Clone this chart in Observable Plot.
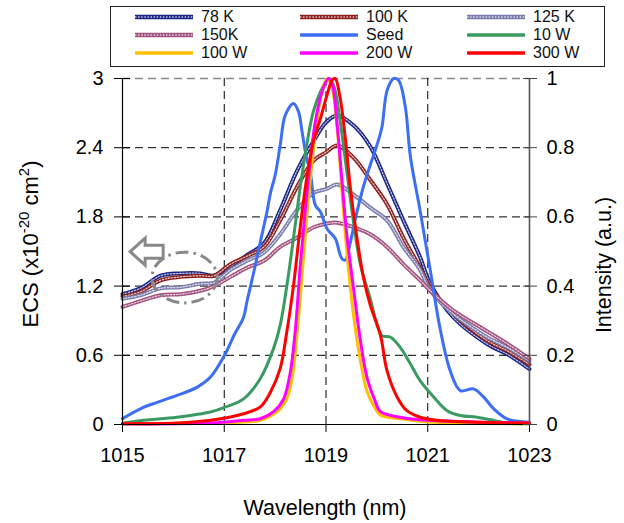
<!DOCTYPE html>
<html><head><meta charset="utf-8">
<script src="https://cdn.jsdelivr.net/npm/d3@7"></script>
<script src="https://cdn.jsdelivr.net/npm/@observablehq/plot@0.6"></script>
<style>
body{margin:0;background:#fff;font-family:"Liberation Sans",Arial,sans-serif;}
#wrap{position:relative;width:624px;height:523px;}
#legend{position:absolute;left:110px;top:6px;width:493px;height:59px;border:1.5px solid #222;background:#fff;box-sizing:content-box;}
.item{position:absolute;height:16px;display:flex;align-items:center;font-size:16px;color:#111;white-space:nowrap;}
.item svg{margin-right:8px;}
.item span{display:inline-block;line-height:16px;height:16px;}
</style></head><body>
<div id="wrap"><div id="chart"></div><div id="legend"></div></div>
<script>
// ---------- data ----------
const xTicks = [1015, 1017, 1019, 1021, 1023];
const ecsTicks = [0, 0.6, 1.2, 1.8, 2.4, 3];
const intensityTicks = [0, 0.2, 0.4, 0.6, 0.8, 1];

const ecsNames = ["78 K", "100 K", "125 K", "150K"];
const ecsColors = ["#1c2584", "#8e1f1f", "#7a7cab", "#a2507e"];
const ecsWl = [1015, 1015.35, 1015.75, 1016.14, 1016.53, 1016.8, 1017.12, 1017.45, 1017.78, 1018.1, 1018.43, 1018.76, 1019.0, 1019.22, 1019.55, 1019.87, 1020.2, 1020.52, 1020.85, 1021.05, 1021.5, 1022.16, 1022.6, 1023];
const ecs78  = [1.13,1.18,1.29,1.31,1.31,1.29,1.37,1.47,1.57,1.86,2.20,2.46,2.62,2.68,2.59,2.41,2.09,1.77,1.45,1.22,0.93,0.70,0.60,0.48];
const ecs100 = [1.11,1.15,1.25,1.28,1.29,1.29,1.39,1.46,1.54,1.77,2.06,2.29,2.36,2.42,2.31,2.12,1.91,1.62,1.36,1.19,0.96,0.73,0.63,0.52];
const ecs125 = [1.09,1.12,1.18,1.19,1.22,1.23,1.34,1.42,1.49,1.65,1.86,2.01,2.04,2.08,1.99,1.88,1.77,1.54,1.34,1.16,0.96,0.76,0.66,0.55];
const ecs150 = [1.02,1.07,1.12,1.13,1.16,1.20,1.28,1.36,1.42,1.54,1.62,1.71,1.74,1.75,1.71,1.65,1.54,1.39,1.25,1.16,0.99,0.81,0.69,0.57];

const intNames = ["Seed", "10 W", "100 W", "200 W", "300 W"];
const intColors = ["#3d6ff5", "#3a9a62", "#ffc000", "#ff00ff", "#ff0000"];
const seed = [[1015,0.017],[1015.42,0.05],[1015.6,0.06],[1016.07,0.084],[1016.47,0.108],[1016.73,0.137],[1017.02,0.204],[1017.2,0.26],[1017.38,0.31],[1017.45,0.358],[1017.58,0.44],[1017.71,0.528],[1017.84,0.615],[1017.91,0.67],[1018.0,0.72],[1018.1,0.807],[1018.2,0.894],[1018.36,0.928],[1018.46,0.904],[1018.53,0.846],[1018.62,0.769],[1018.69,0.73],[1018.79,0.634],[1018.89,0.615],[1019.02,0.566],[1019.18,0.538],[1019.31,0.48],[1019.38,0.475],[1019.48,0.528],[1019.61,0.615],[1019.74,0.69],[1019.87,0.75],[1020.0,0.807],[1020.1,0.86],[1020.2,0.965],[1020.33,1.0],[1020.43,0.994],[1020.56,0.917],[1020.66,0.773],[1020.85,0.618],[1021.05,0.445],[1021.25,0.272],[1021.44,0.156],[1021.64,0.098],[1021.9,0.103],[1022.1,0.079],[1022.3,0.045],[1022.56,0.016],[1022.95,0.007],[1023,0.006]];
const w10 = [[1015,0.004],[1015.42,0.012],[1016.07,0.021],[1016.73,0.036],[1017.02,0.05],[1017.38,0.074],[1017.71,0.133],[1017.97,0.22],[1018.1,0.287],[1018.23,0.40],[1018.36,0.538],[1018.49,0.682],[1018.62,0.807],[1018.75,0.904],[1018.89,0.961],[1019.05,1.0],[1019.15,0.98],[1019.28,0.875],[1019.41,0.73],[1019.55,0.576],[1019.68,0.46],[1019.87,0.364],[1020.0,0.29],[1020.1,0.257],[1020.27,0.252],[1020.46,0.223],[1020.66,0.175],[1020.85,0.127],[1021.12,0.079],[1021.38,0.04],[1021.64,0.026],[1021.97,0.021],[1022.3,0.012],[1022.56,0.004],[1023,0.002]];
const w100 = [[1015,0.002],[1017.38,0.007],[1017.71,0.012],[1018.04,0.037],[1018.23,0.075],[1018.33,0.13],[1018.43,0.26],[1018.53,0.43],[1018.62,0.595],[1018.72,0.75],[1018.82,0.875],[1018.92,0.961],[1019.02,1.0],[1019.12,0.971],[1019.22,0.855],[1019.31,0.682],[1019.41,0.499],[1019.55,0.306],[1019.68,0.181],[1019.81,0.094],[1019.97,0.046],[1020.07,0.027],[1020.5,0.016],[1021.0,0.007],[1023,0.002]];
const w200 = [[1015,0.002],[1016.73,0.004],[1017.38,0.012],[1017.71,0.017],[1017.97,0.037],[1018.17,0.075],[1018.3,0.152],[1018.4,0.277],[1018.49,0.45],[1018.59,0.615],[1018.69,0.76],[1018.79,0.875],[1018.92,0.961],[1019.05,1.0],[1019.12,0.986],[1019.22,0.865],[1019.31,0.711],[1019.41,0.547],[1019.55,0.383],[1019.68,0.239],[1019.81,0.133],[1019.97,0.066],[1020.07,0.037],[1020.46,0.021],[1021.0,0.012],[1023,0.004]];
const w300 = [[1015,0.002],[1016.07,0.004],[1016.73,0.012],[1017.38,0.031],[1017.71,0.051],[1017.91,0.094],[1018.1,0.162],[1018.23,0.268],[1018.36,0.40],[1018.49,0.566],[1018.62,0.711],[1018.75,0.817],[1018.89,0.884],[1019.02,0.952],[1019.12,0.995],[1019.18,1.0],[1019.28,0.942],[1019.38,0.827],[1019.48,0.682],[1019.61,0.538],[1019.74,0.422],[1019.87,0.345],[1020.07,0.258],[1020.2,0.155],[1020.4,0.079],[1020.59,0.04],[1020.85,0.021],[1021.18,0.012],[1021.84,0.007],[1023,0.004]];

// annotation (data units): arrow tip and dashed ellipse
const arrowTip = [1015.16, 1.494];
const ellipseSpec = {cx: 1016.23, cy: 1.27, rx: 0.64, ry: 0.22};

// ---------- build ----------
const ecsValues = [ecs78, ecs100, ecs125, ecs150];
const ecsRows = ecsNames.map((n, k) => ecsWl.map((w, i) => ({wl: w, v: ecsValues[k][i]})));
const intValues = [seed, w10, w100, w200, w300];
const yMax = ecsTicks[ecsTicks.length - 1];
const intRows = intValues.map(arr => arr.map(([w, v]) => ({wl: w, v: v * yMax})));

function annotationMark(index, scales) {
  const {x, y} = scales;
  const g = d3.create("svg:g");
  const ex = x(ellipseSpec.cx), ey = y(ellipseSpec.cy);
  const erx = x(ellipseSpec.cx + ellipseSpec.rx) - ex;
  const ery = ey - y(ellipseSpec.cy + ellipseSpec.ry);
  g.append("ellipse").attr("cx", ex).attr("cy", ey).attr("rx", erx).attr("ry", ery)
    .attr("fill", "none").attr("stroke", "#888").attr("stroke-width", 3)
    .attr("stroke-dasharray", "13,5,2.5,5");
  const tx = x(arrowTip[0]), ty = y(arrowTip[1]);
  g.append("path").attr("d", `M${tx},${ty} l15,-13.5 v7 h18 v13 h-18 v7 z`)
    .attr("fill", "#fff").attr("stroke", "#888").attr("stroke-width", 3).attr("stroke-linejoin", "miter");
  return g.node();
}

const marks = [
  Plot.gridY(ecsTicks.slice(1, -1), {stroke: "#000", strokeOpacity: 1, strokeDasharray: "8,5", strokeWidth: 1}),
  Plot.gridY([yMax], {stroke: "#888", strokeOpacity: 1, strokeDasharray: "8,5", strokeWidth: 1.3}),
  Plot.gridX(xTicks.slice(1, -1), {stroke: "#000", strokeOpacity: 1, strokeDasharray: "8,5", strokeWidth: 1}),
];
ecsRows.forEach((rows, k) => {
  marks.push(Plot.line(rows, {x: "wl", y: "v", stroke: ecsColors[k], strokeWidth: 4, curve: "catmull-rom"}));
  marks.push(Plot.line(rows, {x: "wl", y: "v", stroke: "#fff", strokeWidth: 1.2, strokeOpacity: 0.75, strokeDasharray: "1.5,1.6", curve: "catmull-rom"}));
});
intRows.forEach((rows, k) => {
  marks.push(Plot.line(rows, {x: "wl", y: "v", stroke: intColors[k], strokeWidth: 3, curve: "catmull-rom"}));
});
marks.push(annotationMark);
marks.push(
  Plot.ruleX([xTicks[0]], {stroke: "#000", strokeWidth: 1.2}),
  Plot.ruleX([xTicks[xTicks.length - 1]], {stroke: "#555", strokeWidth: 1.6}),
  Plot.ruleY([0], {stroke: "#000", strokeWidth: 1.2}),
  Plot.axisX({ticks: xTicks, tickSize: 8, tickPadding: 15, tickFormat: d => String(d), fontSize: 20, label: null}),
  Plot.axisY({ticks: ecsTicks, tickSize: 16, dx: 8, tickFormat: () => "", label: null}),
  Plot.axisY({ticks: ecsTicks, tickSize: 0, tickPadding: 19, tickFormat: d => String(+d.toFixed(1)), fontSize: 20, label: null}),
  Plot.axisY({anchor: "right", ticks: ecsTicks, tickSize: 14, dx: -7, stroke: "#444", tickFormat: () => "", label: null}),
  Plot.axisY({anchor: "right", ticks: ecsTicks, tickSize: 0, tickPadding: 17, tickFormat: d => String(+(d / yMax).toFixed(1)), fontSize: 20, label: null})
);

const chart = Plot.plot({
  width: 624, height: 523,
  marginLeft: 122, marginRight: 95, marginTop: 78, marginBottom: 99,
  x: {domain: [xTicks[0], xTicks[xTicks.length - 1]]},
  y: {domain: [0, yMax]},
  style: {fontFamily: "Liberation Sans, Arial, sans-serif", fontSize: "20px", color: "#000", background: "#fff", overflow: "visible"},
  marks
});
document.getElementById("chart").appendChild(chart);

// axis titles
const svg = d3.select(chart);
svg.append("text").attr("x", 325).attr("y", 515).attr("text-anchor", "middle")
  .style("font-size", "21.5px").style("font-family", "Liberation Sans, Arial, sans-serif").text("Wavelength (nm)");
svg.append("text").attr("transform", "translate(611,265) rotate(-90)").attr("text-anchor", "middle")
  .style("font-size", "21.5px").style("font-family", "Liberation Sans, Arial, sans-serif").text("Intensity (a.u.)");
const t = svg.append("text").attr("transform", "translate(38,244) rotate(-90)").attr("text-anchor", "middle")
  .style("font-size", "22px").style("font-family", "Liberation Sans, Arial, sans-serif");
t.append("tspan").text("ECS (x10");
t.append("tspan").attr("dy", "-9").style("font-size", "15px").text("-20");
t.append("tspan").attr("dy", "9").text(" cm");
t.append("tspan").attr("dy", "-9").style("font-size", "15px").text("2");
t.append("tspan").attr("dy", "9").text(")");

// legend
const legendNames = [...ecsNames, ...intNames];
const legendColors = [...ecsColors, ...intColors];
const legendTextured = legendNames.map((n, i) => i < ecsNames.length);
const colLeft = [24, 189, 356], rowTop = [2, 20, 38];
const legend = d3.select("#legend");
legendNames.forEach((name, i) => {
  const item = legend.append("div").attr("class", "item")
    .style("left", colLeft[i % 3] + "px").style("top", rowTop[Math.floor(i / 3)] + "px");
  const s = item.append("svg").attr("width", 58).attr("height", 8);
  if (legendTextured[i]) {
    s.append("line").attr("x1", 0).attr("x2", 58).attr("y1", 4).attr("y2", 4).attr("stroke", legendColors[i]).attr("stroke-width", 4.5);
    s.append("line").attr("x1", 0).attr("x2", 58).attr("y1", 4).attr("y2", 4).attr("stroke", "#fff").attr("stroke-width", 1.3).attr("stroke-opacity", 0.75).attr("stroke-dasharray", "1.5,1.6");
  } else {
    s.append("line").attr("x1", 1).attr("x2", 57).attr("y1", 4).attr("y2", 4).attr("stroke", legendColors[i]).attr("stroke-width", 3.5).attr("stroke-linecap", "round");
  }
  item.append("span").text(name);
});
</script>
</body></html>
